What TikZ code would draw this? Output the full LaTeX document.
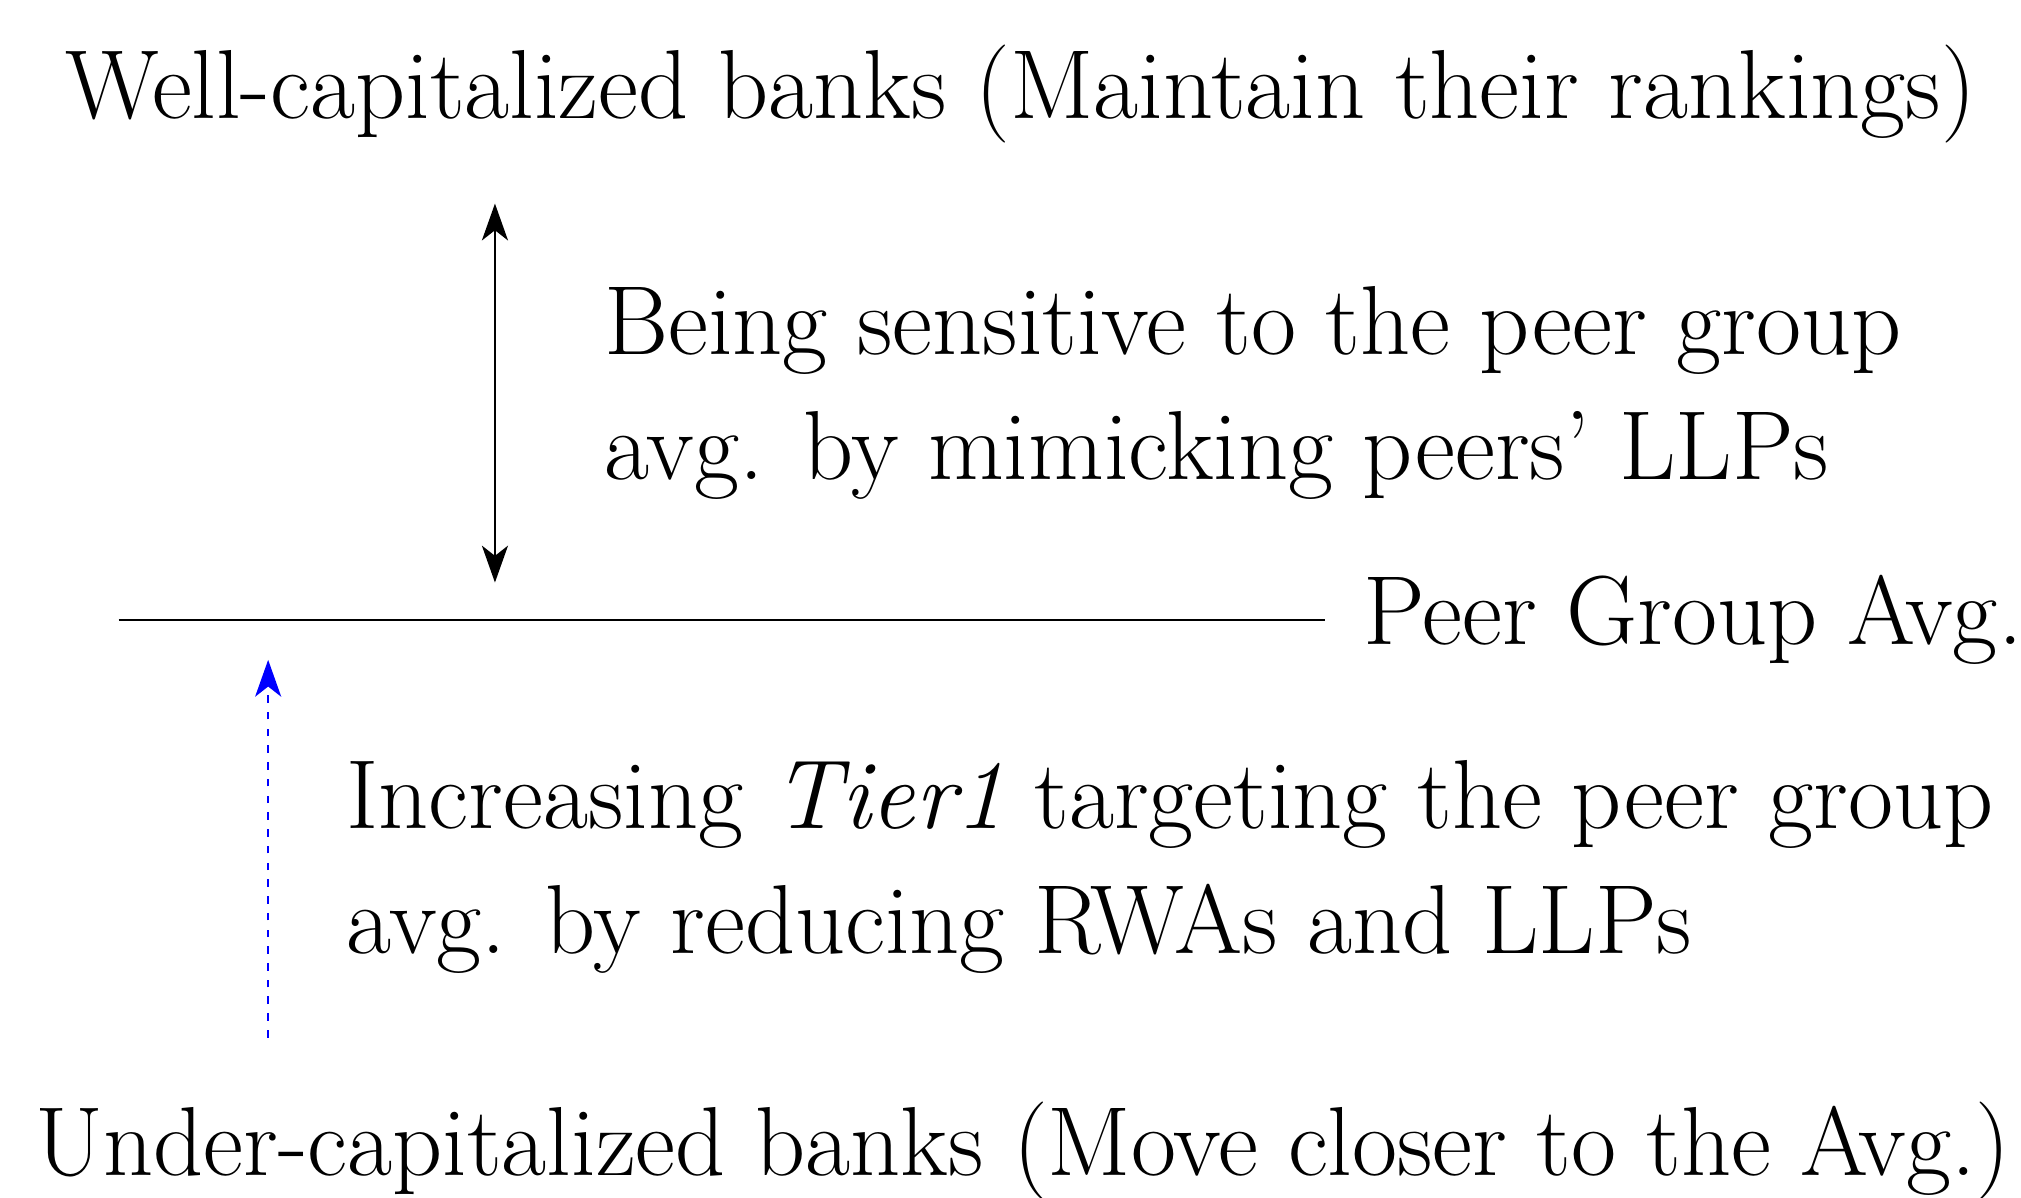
\documentclass[tikz,border=0pt]{standalone}
\usepackage{tikz}
\usetikzlibrary{arrows.meta, positioning}
\tikzset{
    bigtext/.style={font=\LARGE, inner sep=0pt},
    notetext/.style={font=\LARGE, inner sep=0pt, align=left, anchor=base west},
    avgline/.style={line width=0.3pt},
    mimicarrow/.style={{Stealth[length=6.5pt, width=4.6pt, inset=1.8pt]}-{Stealth[length=6.5pt, width=4.6pt, inset=1.8pt]}, line width=0.3pt},
    targetarrow/.style={-{Stealth[length=6.5pt, width=4.6pt, inset=1.8pt]}, blue, line width=0.25pt, dash pattern=on 1.35pt off 1.6pt},
}
\begin{document}
\begin{tikzpicture}[x=1.197cm, y=1.197cm]
    \useasboundingbox (0,0) rectangle (10.453,-6.193);

    % the two groups of banks
    \node[bigtext, anchor=base] (well) at (5.28,-0.613) {Well-capitalized banks (Maintain their rankings)};
    \node[bigtext, anchor=base] (under) at (5.29,-6.08) {Under-capitalized banks (Move closer to the Avg.)};

    % peer group average line
    \coordinate (avgleft) at (0.613,-3.207);
    \coordinate (avgright) at (6.853,-3.207);
    \draw[avgline] (avgleft) -- (avgright);
    \node[bigtext, anchor=base west] (avg) at (7.047,-3.333) {Peer Group Avg.};

    % well-capitalized: mimicking
    \coordinate (mimictop) at (2.56,-1.053);
    \coordinate (mimicbot) at (2.56,-3.013);
    \draw[mimicarrow] (mimictop) -- (mimicbot);
    \node[notetext] (mimic) at (3.12,-2.48) {Being sensitive to the peer group\\avg. by mimicking peers' LLPs};

    % under-capitalized: targeting
    \coordinate (targetstart) at (1.387,-5.367);
    \coordinate (targetend) at (1.387,-3.413);
    \draw[targetarrow] (targetstart) -- (targetend);
    \node[notetext] (target) at (1.787,-4.933) {Increasing \textit{Tier1} targeting the peer group\\avg. by reducing RWAs and LLPs};
\end{tikzpicture}
\end{document}
